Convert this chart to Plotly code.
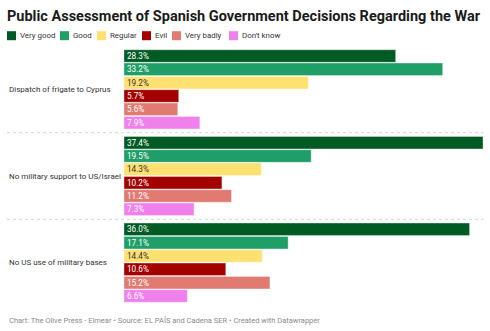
import plotly.graph_objects as go

# Survey questions (top to bottom) and rating categories
questions = [
    "Dispatch of frigate to Cyprus",
    "No military support to US/Israel",
    "No US use of military bases",
]
ratings = ["Very good", "Good", "Regular", "Evil", "Very badly", "Don't know"]

# Share of respondents (%) per rating, in question order
very_good = [28.3, 37.4, 36.0]
good = [33.2, 19.5, 17.1]
regular = [19.2, 14.3, 14.4]
evil = [5.7, 10.2, 10.6]
very_badly = [5.6, 11.2, 15.2]
dont_know = [7.9, 7.3, 6.6]

series = [very_good, good, regular, evil, very_badly, dont_know]
colors = ["#005a24", "#1f9e68", "#ffe171", "#a30000", "#e17b72", "#f080ec"]
text_colors = ["#ffffff", "#ffffff", "#333333", "#ffffff", "#ffffff", "#ffffff"]

W, H = 490, 331
M_L, M_R, M_T, M_B = 124, 7, 46, 25
plot_w = W - M_L - M_R
plot_h = H - M_T - M_B


def px_x(px):
    return (px - M_L) / plot_w


def px_y(py):
    return 1 - (py - M_T) / plot_h


fig = go.Figure()
for name, vals, col, tcol in zip(ratings, series, colors, text_colors):
    fig.add_trace(go.Bar(
        y=questions,
        x=vals,
        name=name,
        orientation="h",
        marker=dict(color=col, line=dict(color="rgba(255,255,255,0.35)", width=1)),
        text=[f"{v:.1f}%" for v in vals],
        textposition="inside",
        insidetextanchor="start",
        textfont=dict(family="Roboto", size=8.2, color=tcol),
        showlegend=False,
        hoverinfo="skip",
    ))

shapes = []
annotations = []

# dotted separators between question groups
for k in range(len(questions) - 1):
    shapes.append(dict(
        type="line", xref="paper", yref="y",
        x0=px_x(7), x1=px_x(485), y0=k + 0.5, y1=k + 0.5,
        line=dict(color="#d6d6d6", width=1, dash="dot"),
    ))

# left-aligned question labels
for q in questions:
    annotations.append(dict(
        xref="paper", yref="y", x=px_x(7), y=q,
        text=q, showarrow=False, xanchor="left", yanchor="middle",
        font=dict(family="Roboto", size=8, color="#333333"),
    ))

# legend row: colour square + label
legend_px = [7, 60, 97, 142, 172, 229]
leg_y = 35.7
for name, col, lx in zip(ratings, colors, legend_px):
    shapes.append(dict(
        type="rect", xref="paper", yref="paper",
        x0=px_x(lx), x1=px_x(lx + 9), y0=px_y(leg_y + 4.5), y1=px_y(leg_y - 4.5),
        fillcolor=col, line=dict(width=0),
    ))
    annotations.append(dict(
        xref="paper", yref="paper", x=px_x(lx + 11), y=px_y(leg_y),
        text=name, showarrow=False, xanchor="left", yanchor="middle",
        font=dict(family="Roboto", size=7.9, color="#333333"),
    ))

# footer
annotations.append(dict(
    xref="paper", yref="paper", x=px_x(7), y=px_y(320),
    text="Chart: The Olive Press - Eimear • Source: EL PAÍS and Cadena SER • Created with Datawrapper",
    showarrow=False, xanchor="left", yanchor="middle",
    font=dict(family="Roboto", size=7.5, color="#8a8a8a"),
))

fig.update_layout(
    width=W, height=H,
    margin=dict(l=M_L, r=M_R, t=M_T, b=M_B),
    paper_bgcolor="white", plot_bgcolor="white",
    barmode="group",
    bargap=0.077,
    bargroupgap=0.06,
    title=dict(
        text="<b>Public Assessment of Spanish Government Decisions Regarding the War</b>",
        x=7 / W, xanchor="left", xref="container",
        y=1 - 15.5 / H, yanchor="middle", yref="container",
        font=dict(family="Roboto", size=14.5, color="#1a1a1a"),
    ),
    xaxis=dict(range=[0, 37.4], visible=False, fixedrange=True),
    yaxis=dict(autorange="reversed", visible=False, fixedrange=True,
               categoryorder="array", categoryarray=questions),
    uniformtext=dict(minsize=8, mode="show"),
    shapes=shapes,
    annotations=annotations,
    font=dict(family="Roboto"),
)

fig.write_html("out.html")
